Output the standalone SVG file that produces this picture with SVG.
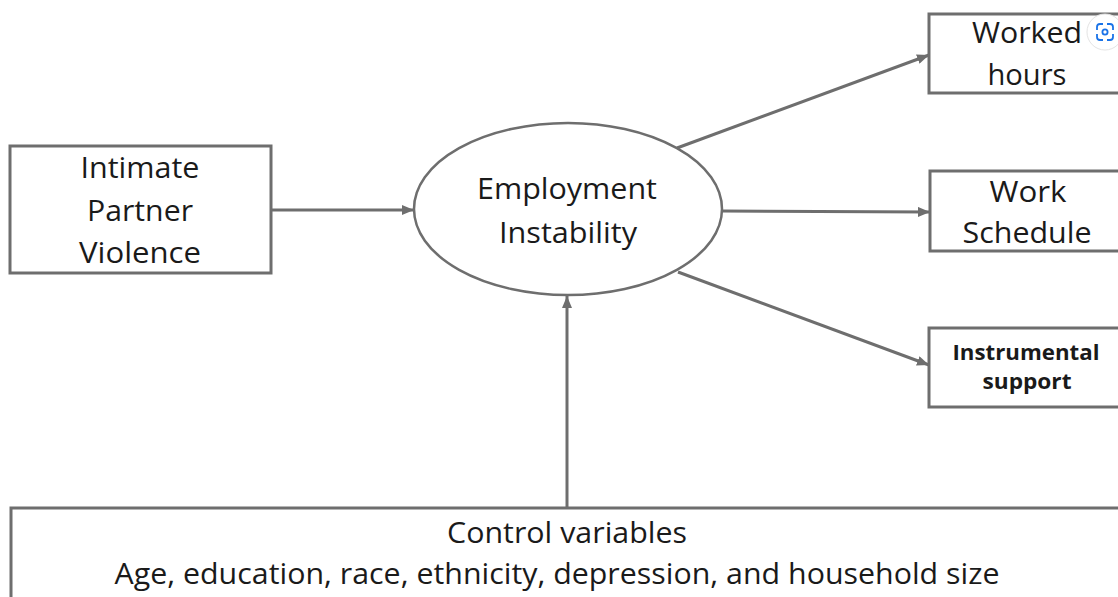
<svg xmlns="http://www.w3.org/2000/svg" width="1118" height="597" viewBox="0 0 1118 597">
<defs>
<style>
.box{fill:#fff;stroke:#6e6e6e;stroke-width:3}
.ell{fill:#fff;stroke:#6e6e6e;stroke-width:2.5}
.edge{fill:none;stroke:#6e6e6e;stroke-width:3}
.t{font-family:"Open Sans","Noto Sans","Liberation Sans",sans-serif;font-size:30px;fill:#1a1a1a;text-anchor:middle}
.b{font-family:"Open Sans","Noto Sans","Liberation Sans",sans-serif;font-size:21px;font-weight:bold;fill:#1a1a1a;text-anchor:middle}
</style>
<marker id="ah" viewBox="0 0 12 10" refX="12" refY="5" markerWidth="12" markerHeight="10" markerUnits="userSpaceOnUse" orient="auto">
<path d="M0,0 L12,5 L0,10 Z" fill="#6e6e6e"/>
</marker>
</defs>
<rect width="1118" height="597" fill="#fff"/>
<g id="connectors">
<line class="edge" x1="271" y1="210" x2="414" y2="210" marker-end="url(#ah)"/>
<line class="edge" x1="677" y1="148" x2="929" y2="55" marker-end="url(#ah)"/>
<line class="edge" x1="722" y1="211" x2="930" y2="212" marker-end="url(#ah)"/>
<line class="edge" x1="678" y1="272" x2="929" y2="365" marker-end="url(#ah)"/>
<line class="edge" x1="567" y1="508" x2="567" y2="296" marker-end="url(#ah)"/>
</g>
<g id="ipv">
<rect class="box" x="10" y="146" width="261" height="127"/>
<text class="t" x="140" y="178" textLength="119" lengthAdjust="spacingAndGlyphs">Intimate</text>
<text class="t" x="140" y="221" textLength="106" lengthAdjust="spacingAndGlyphs">Partner</text>
<text class="t" x="140" y="263" textLength="122" lengthAdjust="spacingAndGlyphs">Violence</text>
</g>
<g id="employment">
<ellipse class="ell" cx="568" cy="209" rx="154" ry="86"/>
<text class="t" x="567" y="199" textLength="180" lengthAdjust="spacingAndGlyphs">Employment</text>
<text class="t" x="568" y="243" textLength="138" lengthAdjust="spacingAndGlyphs">Instability</text>
</g>
<g id="worked">
<rect class="box" x="929" y="14" width="200" height="79"/>
<text class="t" x="1027" y="43" textLength="110" lengthAdjust="spacingAndGlyphs">Worked</text>
<text class="t" x="1027" y="85" textLength="79" lengthAdjust="spacingAndGlyphs">hours</text>
</g>
<g id="schedule">
<rect class="box" x="930" y="171" width="200" height="80"/>
<text class="t" x="1028" y="202" textLength="77" lengthAdjust="spacingAndGlyphs">Work</text>
<text class="t" x="1027" y="243" textLength="129" lengthAdjust="spacingAndGlyphs">Schedule</text>
</g>
<g id="instrumental">
<rect class="box" x="929" y="328" width="200" height="79"/>
<text class="b" x="1026" y="360" textLength="147" lengthAdjust="spacingAndGlyphs">Instrumental</text>
<text class="b" x="1027" y="389" textLength="89" lengthAdjust="spacingAndGlyphs">support</text>
</g>
<g id="control">
<rect class="box" x="11" y="508" width="1130" height="100"/>
<text class="t" x="567" y="543" textLength="240" lengthAdjust="spacingAndGlyphs">Control variables</text>
<text class="t" x="557" y="584" textLength="885" lengthAdjust="spacingAndGlyphs">Age, education, race, ethnicity, depression, and household size</text>
</g>
<g id="lens-icon">
<circle cx="1105" cy="32" r="18" fill="#fff" stroke="#e4e4e4" stroke-width="1"/>
<path d="M1097,30 v-3 q0,-3 3,-3 h3 M1107,24 h3 q3,0 3,3 v3 M1113,34 v3 q0,3 -3,3 h-3 M1103,40 h-3 q-3,0 -3,-3 v-3" fill="none" stroke="#1a73e8" stroke-width="1.8"/>
<circle cx="1105" cy="32" r="2.6" fill="none" stroke="#1a73e8" stroke-width="1.8"/>
</g>
</svg>
